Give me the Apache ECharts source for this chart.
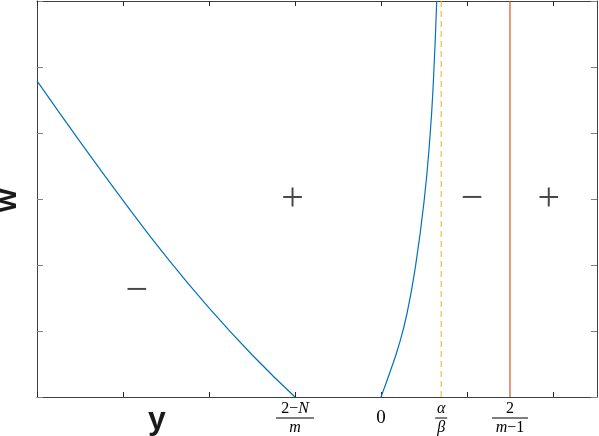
<!DOCTYPE html>
<html>
<head>
<meta charset="utf-8">
<script src="https://cdn.jsdelivr.net/npm/echarts@6/dist/echarts.min.js"></script>
<style>
  html, body { margin: 0; padding: 0; background: #fff; }
  #chart { width: 599px; height: 436px; }
</style>
</head>
<body>
<div id="chart"></div>
<script>
// data
const leftCurve = [[-4, 4.79], [-3.5, 3.87], [-3, 2.98], [-2.5, 2.13], [-2, 1.35], [-1.5, 0.64], [-1, 0]]
const rightCurve = [[0, 0], [0.1, 0.36], [0.2, 0.75], [0.3, 1.25], [0.4, 1.97], [0.5, 2.95], [0.57, 3.95], [0.61, 4.8], [0.648, 6]]
const alphaOverBeta = 0.7
const twoOverM1 = 1.5
const xTicks = [-4, -3, -2, -1, 0, 1, 2]
const yTicks = [0, 1, 2, 3, 4, 5, 6]
const xLabelValues = [-1, 0, alphaOverBeta, twoOverM1]
const xLabelTexts = [
  '{n|2−}{ni|N}\n{bar38|}\n{di|m}',
  '{z|0}',
  '{ni|α}\n{bar12|}\n{di|β}',
  '{n|2}\n{bar36|}\n{di|m}{d|−1}'
]
const signs = [[-1.03, 3, '+'], [-2.84, 1.6, '−'], [1.06, 3, '−'], [1.95, 3, '+']]

const chart = echarts.init(document.getElementById('chart'))
const serif = 'Liberation Serif'
const axisColor = '#404040'

const common = {
  min: -4,
  max: 2.512,
  interval: 1
}

const options = {
  backgroundColor: '#fff',
  animation: false,
  grid: { left: 37, right: 2, top: 1, bottom: 39, outerBoundsMode: 'none' },
  graphic: [{
    type: 'text',
    left: 148,
    top: 404,
    style: { text: 'y', font: 'bold 32px "Liberation Sans"', fill: '#1a1a1a' }
  }, {
    type: 'text',
    x: -7,
    y: 212,
    rotation: Math.PI / 2,
    style: { text: 'w', font: 'bold 30px "Liberation Sans"', fill: '#1a1a1a' }
  }],
  xAxis: [{
    type: 'value',
    ...common,
    position: 'bottom',
    splitLine: { show: false },
    axisLine: { onZero: false, lineStyle: { color: axisColor, width: 1 } },
    axisTick: { inside: true, length: 5, customValues: xTicks, lineStyle: { color: '#262626' } },
    axisLabel: {
      margin: 4,
      customValues: xLabelValues,
      formatter: v => {
        const i = xLabelValues.findIndex(x => Math.abs(x - v) < 1e-6)
        return i >= 0 ? xLabelTexts[i] : ''
      },
      rich: {
        n: { fontFamily: serif, fontSize: 16, lineHeight: 15, color: '#000' },
        ni: { fontFamily: serif, fontStyle: 'italic', fontSize: 16, lineHeight: 15, color: '#000' },
        d: { fontFamily: serif, fontSize: 16, lineHeight: 15, color: '#000' },
        di: { fontFamily: serif, fontStyle: 'italic', fontSize: 16, lineHeight: 15, color: '#000' },
        z: { fontFamily: serif, fontSize: 19, lineHeight: 34, color: '#000' },
        bar38: { width: 38, height: 1, lineHeight: 4, backgroundColor: '#000' },
        bar36: { width: 36, height: 1, lineHeight: 4, backgroundColor: '#000' },
        bar12: { width: 12, height: 1, lineHeight: 4, backgroundColor: '#000' }
      }
    }
  }, {
    type: 'value',
    ...common,
    position: 'top',
    splitLine: { show: false },
    axisLine: { onZero: false, lineStyle: { color: axisColor, width: 1 } },
    axisTick: { inside: true, length: 5, customValues: xTicks, lineStyle: { color: '#262626' } },
    axisLabel: { show: false }
  }],
  yAxis: [{
    type: 'value',
    min: 0,
    max: 6,
    interval: 1,
    position: 'left',
    splitLine: { show: false },
    axisLine: { onZero: false, lineStyle: { color: axisColor, width: 1 } },
    axisTick: { inside: true, length: 6, customValues: yTicks, lineStyle: { color: '#808080' } },
    axisLabel: { show: false }
  }, {
    type: 'value',
    min: 0,
    max: 6,
    interval: 1,
    position: 'right',
    splitLine: { show: false },
    axisLine: { onZero: false, lineStyle: { color: axisColor, width: 1 } },
    axisTick: { inside: true, length: 6, customValues: yTicks, lineStyle: { color: '#808080' } },
    axisLabel: { show: false }
  }],
  series: [{
    type: 'line',
    data: leftCurve,
    smooth: true,
    showSymbol: false,
    lineStyle: { color: '#0072BD', width: 1.2 }
  }, {
    type: 'line',
    data: rightCurve,
    smooth: true,
    showSymbol: false,
    lineStyle: { color: '#0072BD', width: 1.2 }
  }, {
    type: 'line',
    data: [[alphaOverBeta, 0], [alphaOverBeta, 6]],
    showSymbol: false,
    lineStyle: { color: '#EDB120', width: 1.2, type: [6, 4], opacity: 0.85 }
  }, {
    type: 'line',
    data: [[twoOverM1, 0], [twoOverM1, 6]],
    showSymbol: false,
    lineStyle: { color: '#D95319', width: 1.2 }
  }, {
    type: 'scatter',
    data: signs,
    symbolSize: 0,
    label: {
      show: true,
      position: 'inside',
      formatter: p => p.value[2],
      fontFamily: serif,
      fontSize: 40,
      color: '#1a1a1a'
    }
  }]
}

chart.setOption(options)
</script>
</body>
</html>
